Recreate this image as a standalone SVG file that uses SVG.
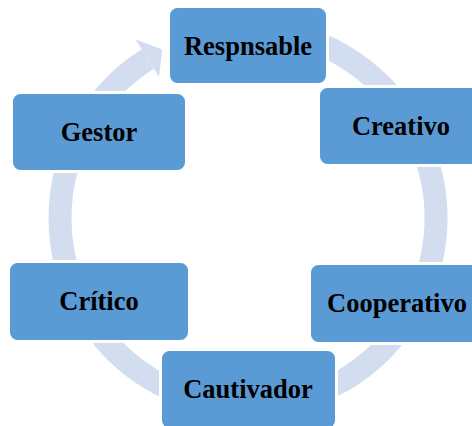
<svg xmlns="http://www.w3.org/2000/svg" width="472" height="426" viewBox="0 0 472 426">
  <style>
    .box { fill: #5B9BD5; stroke: #FFFFFF; stroke-width: 3; }
    .lbl { font-family: "Liberation Serif", "Times New Roman", serif; font-weight: bold; font-size: 26.5px; fill: #000000; text-anchor: middle; }
    .ring { fill: none; stroke: #D2DEEF; stroke-width: 23; }
    .head { fill: #D2DEEF; stroke: none; }
  </style>
  <rect width="472" height="426" fill="#FFFFFF"/>
  <g id="connectors">
    <path class="ring" d="M 183.7 41.3 A 188 188 0 1 1 147.8 58.9"/>
    <polygon class="head" points="135.6,39.5 162.2,49.6 159.0,76.7"/>
  </g>
  <g id="node-respnsable">
    <rect class="box" x="168.5" y="6.5" width="159" height="78" rx="9"/>
    <text class="lbl" x="248" y="54.5">Respnsable</text>
  </g>
  <g id="node-creativo">
    <rect class="box" x="318.5" y="86.5" width="165" height="79" rx="9"/>
    <text class="lbl" x="401" y="134.5">Creativo</text>
  </g>
  <g id="node-cooperativo">
    <rect class="box" x="309.5" y="263.5" width="175" height="80" rx="9"/>
    <text class="lbl" x="397" y="312">Cooperativo</text>
  </g>
  <g id="node-cautivador">
    <rect class="box" x="160.5" y="349.5" width="176" height="80" rx="9"/>
    <text class="lbl" x="248" y="398">Cautivador</text>
  </g>
  <g id="node-critico">
    <rect class="box" x="8.5" y="261.5" width="181" height="80" rx="9"/>
    <text class="lbl" x="99" y="310">Crítico</text>
  </g>
  <g id="node-gestor">
    <rect class="box" x="11.5" y="92.5" width="175" height="79" rx="9"/>
    <text class="lbl" x="99" y="140.5">Gestor</text>
  </g>
</svg>
